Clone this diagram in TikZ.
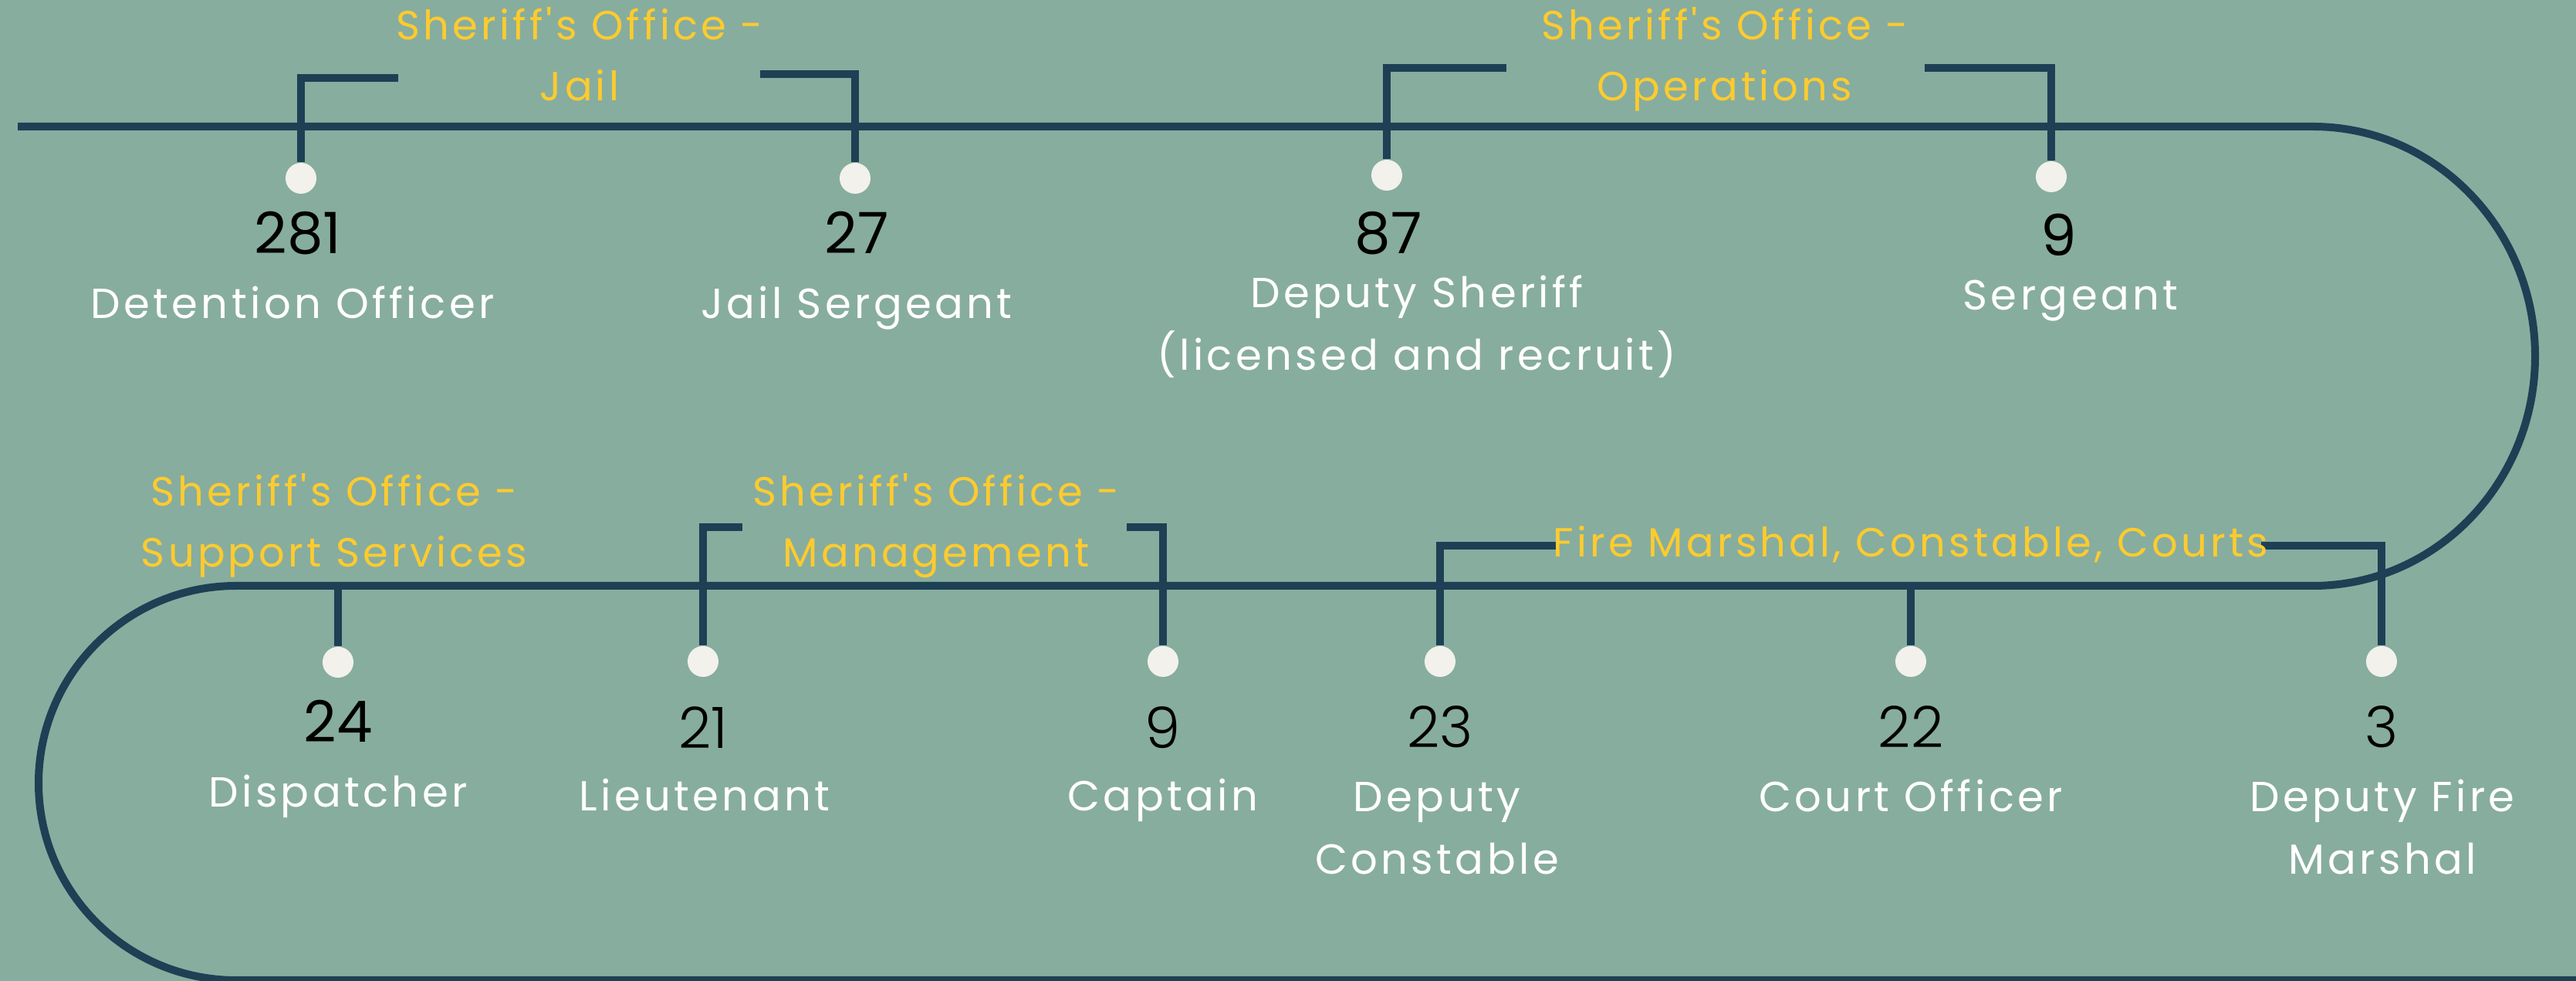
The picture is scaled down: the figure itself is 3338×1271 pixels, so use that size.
\documentclass[tikz,border=0pt]{standalone}
\usepackage{fontspec}
\setmainfont{Poppins}
\newfontfamily\spacedfont{Poppins}[LetterSpace=8]
\newfontfamily\lightfont{Poppins Light}
\definecolor{bgcol}{HTML}{87AD9F}
\definecolor{trackcol}{HTML}{1D4054}
\definecolor{dotcol}{HTML}{F2F1EC}
\definecolor{grpcol}{HTML}{FDCB2E}
\tikzset{
  dot/.style={circle, fill=dotcol, inner sep=0pt, minimum size=0.4cm},
  grp/.style={text=grpcol, anchor=base, align=center, inner sep=0pt,
    font=\spacedfont\fontsize{15}{22.5}\selectfont},
  role/.style={text=white, anchor=base, align=center, inner sep=0pt,
    font=\spacedfont\fontsize{15.5}{23.3}\selectfont},
  num/.style={text=black, anchor=base, inner sep=0pt,
    font=\fontsize{21}{25}\selectfont},
  numlight/.style={num, font=\lightfont\fontsize{21}{25}\selectfont},
  track/.style={draw=trackcol, line width=0.1cm},
  stem/.style={draw=trackcol, line width=0.1cm},
}

\begin{document}
\begin{tikzpicture}[x=0.01cm, y=-0.01cm]
        \clip (0, 0) rectangle (3338, 1271);
        \fill[bgcol] (0, 0) rectangle (3338, 1271);

        % the track
        \coordinate (t0) at (23, 164);
        \coordinate (t1) at (2997, 164);
        \coordinate (t2) at (306, 759);
        \coordinate (t3) at (3400, 1270);
        \draw[track] (t0) -- (t1)
            arc[start angle=-90, end angle=90, x radius=288, y radius=297.5]
            -- (t2)
            arc[start angle=-90, end angle=-270, x radius=256, y radius=255.5]
            -- (t3);

        % dots
        \node[dot] at (390, 231)(d281){};
        \node[dot] at (1108, 231)(d27){};
        \node[dot] at (1797, 227)(d87){};
        \node[dot] at (2658, 229)(d9a){};
        \node[dot] at (438, 858)(d24){};
        \node[dot] at (911, 857)(d21){};
        \node[dot] at (1507, 857)(d9b){};
        \node[dot] at (1866, 857)(d23){};
        \node[dot] at (2476, 857)(d22){};
        \node[dot] at (3086, 857)(d3){};

        % bracket ends
        \coordinate (jailL) at (516, 101);
        \coordinate (jailR) at (985, 96);
        \coordinate (opsL) at (1952, 88);
        \coordinate (opsR) at (2494, 88);
        \coordinate (mgmtL) at (962, 683);
        \coordinate (mgmtR) at (1460, 683);
        \coordinate (fmcL) at (2021, 707);
        \coordinate (fmcR) at (2930, 707);
        \coordinate (s24) at (438, 759);
        \coordinate (s22) at (2476, 759);

        \draw[stem] (jailL) -| (d281);
        \draw[stem] (jailR) -| (d27);
        \draw[stem] (opsL) -| (d87);
        \draw[stem] (opsR) -| (d9a);
        \draw[stem] (mgmtL) -| (d21);
        \draw[stem] (mgmtR) -| (d9b);
        \draw[stem] (fmcL) -| (d23);
        \draw[stem] (fmcR) -| (d3);
        \draw[stem] (s24) -- (d24);
        \draw[stem] (s22) -- (d22);

        % groups (base = last line)
        \node[grp] at (751, 131)(gjail){Sheriff's Office -\\Jail};
        \node[grp] at (2235, 131)(gops){Sheriff's Office -\\Operations};
        \node[grp] at (433, 735)(gsupp){Sheriff's Office -\\Support Services};
        \node[grp] at (1213, 735)(gmgmt){Sheriff's Office -\\Management};
        \node[grp] at (2476, 722)(gfmc){Fire Marshal, Constable, Courts};

        % numbers
        \node[num] at (386, 329)(n281){281};
        \node[num] at (1110, 329)(n27){27};
        \node[num] at (1799, 329)(n87){87};
        \node[num] at (2668, 332)(n9a){9};
        \node[num] at (438, 962)(n24){24};
        \node[numlight] at (911, 970)(n21){21};
        \node[numlight] at (1507, 970)(n9b){9};
        \node[numlight] at (1866, 969)(n23){23};
        \node[numlight] at (2476, 969)(n22){22};
        \node[numlight] at (3086, 969)(n3){3};

        % roles
        \node[role] at (379, 413)(r281){Detention Officer};
        \node[role] at (1110, 413)(r27){Jail Sergeant};
        \node[role] at (1836, 480)(r87){Deputy Sheriff\\(licensed and recruit)};
        \node[role] at (2683, 402)(r9a){Sergeant};
        \node[role] at (438, 1046)(r24){Dispatcher};
        \node[role] at (913, 1051)(r21){Lieutenant};
        \node[role] at (1507, 1051)(r9b){Captain};
        \node[role] at (1862, 1133)(r23){Deputy\\Constable};
        \node[role] at (2476, 1052)(r22){Court Officer};
        \node[role] at (3087, 1133)(r3){Deputy Fire\\Marshal};
    \end{tikzpicture}
\end{document}
